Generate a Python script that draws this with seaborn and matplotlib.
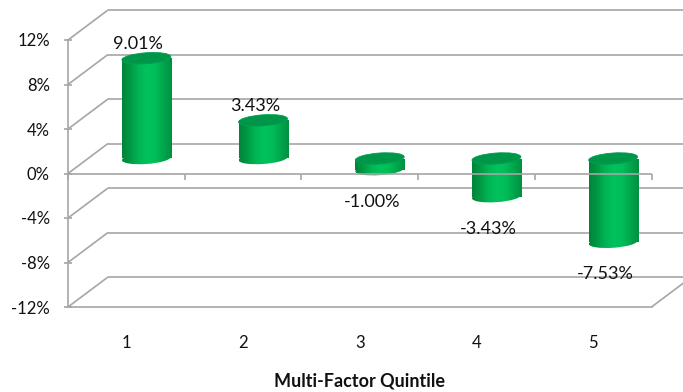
import numpy as np
import pandas as pd
import matplotlib
matplotlib.use("Agg")
import matplotlib.pyplot as plt
import matplotlib.transforms as mtransforms
from matplotlib.patches import Ellipse
from matplotlib.colors import LinearSegmentedColormap
import seaborn as sns

# ---- data -------------------------------------------------------------
quintiles = ["1", "2", "3", "4", "5"]
returns = [9.01, 3.43, -1.00, -3.43, -7.53]
value_labels = ["9.01%", "3.43%", "-1.00%", "-3.43%", "-7.53%"]
y_ticks = [-12, -8, -4, 0, 4, 8, 12]
y_tick_labels = ["-12%", "-8%", "-4%", "0%", "4%", "8%", "12%"]
x_title = "Multi-Factor Quintile"

# ---- styling ----------------------------------------------------------
DPI = 100
W, H = 683, 392
DEPTH = (40, 30)          # back wall offset in pixels (right, up)
GRID = "#a6a6a6"
LW = 1.2
BAR_W = 0.42
CAP_H = 11                # cylinder cap height in pixels
CAP_TILT = 4              # cap tilt in degrees
TEXT = "#111111"

sns.set_theme(style="white")
plt.rcParams["font.family"] = ["Lato", "DejaVu Sans"]

fig = plt.figure(figsize=(W / DPI, H / DPI), dpi=DPI)
ax = fig.add_axes([68 / W, (H - 307) / H, 583.5 / W, 267 / H])

df = pd.DataFrame({"quintile": quintiles, "ret": returns})
sns.barplot(data=df, x="quintile", y="ret", ax=ax, width=BAR_W,
            color="#00a84f", saturation=1)

x_lo, x_hi = -0.5, len(quintiles) - 0.5
y_lo, y_hi = y_ticks[0], y_ticks[-1]


def reset_limits():
    ax.set_xlim(x_lo, x_hi)
    ax.set_ylim(y_lo, y_hi)


reset_limits()

# pixel size of one data unit, used to express the depth offset in data units
p0 = ax.transData.transform((0, 0))
p1 = ax.transData.transform((1, 1))
px_x, px_y = p1[0] - p0[0], p1[1] - p0[1]
dx, dy = DEPTH[0] / px_x, DEPTH[1] / px_y

# the cylinders sit halfway between the front plane and the back wall
mid = mtransforms.offset_copy(ax.transData, fig=fig, x=DEPTH[0] / 2,
                              y=DEPTH[1] / 2, units="dots")

# ---- walls and floor --------------------------------------------------
line_kw = dict(color=GRID, lw=LW, clip_on=False, solid_capstyle="butt")
for v in y_ticks:
    ax.plot([x_lo + dx, x_hi + dx], [v + dy, v + dy], zorder=1, **line_kw)
    ax.plot([x_lo, x_lo + dx], [v, v + dy], zorder=1, **line_kw)
ax.plot([x_hi, x_hi + dx], [y_lo, y_lo + dy], zorder=1, **line_kw)

for side in ["top", "right"]:
    ax.spines[side].set_visible(False)
for side in ["left", "bottom"]:
    ax.spines[side].set_color(GRID)
    ax.spines[side].set_linewidth(LW)

# ---- cylinders --------------------------------------------------------
cyl_cmap = LinearSegmentedColormap.from_list(
    "cyl", ["#00843a", "#009a45", "#00b555", "#00c25d", "#00bd59", "#00a64c", "#009040"])
grad = np.linspace(0, 1, 256)[None, :]
ident = mtransforms.IdentityTransform()

for i, (patch, v) in enumerate(zip(ax.patches, returns)):
    patch.set_transform(mid)
    patch.set_facecolor("none")
    patch.set_edgecolor("none")
    bx, bw = patch.get_x(), patch.get_width()
    y0, y1 = patch.get_y(), patch.get_y() + patch.get_height()
    lo, hi = min(y0, y1), max(y0, y1)

    body = ax.imshow(grad, cmap=cyl_cmap, aspect="auto", interpolation="bilinear",
                     extent=(bx, bx + bw, lo, hi), transform=mid, zorder=3)
    body.set_clip_path(patch)

    wpx = bw * px_x
    cx, cy = mid.transform((bx + bw / 2, lo))
    base = Ellipse((cx, cy), wpx, CAP_H, angle=CAP_TILT, transform=ident)
    base_im = ax.imshow(grad, cmap=cyl_cmap, aspect="auto", interpolation="bilinear",
                        extent=(cx - wpx / 2, cx + wpx / 2, cy - CAP_H, cy + CAP_H),
                        transform=ident, zorder=3)
    base_im.set_clip_path(base)

    tx, ty = mid.transform((bx + bw / 2, hi))
    cap = Ellipse((tx, ty), wpx, CAP_H, angle=CAP_TILT, transform=ident,
                  facecolor="#00964a", edgecolor="#00a050", lw=0.6, zorder=4)
    ax.add_artist(cap)

reset_limits()

# ---- front zero axis (drawn in front of the cylinders) ----------------
bounds = np.arange(len(quintiles) + 1) - 0.5
ax.plot([x_lo, x_hi], [0, 0], zorder=5, **line_kw)
ax.vlines(bounds, 0, -6 / px_y, colors=GRID, lw=LW, zorder=5, clip_on=False)

# ---- value labels -----------------------------------------------------
for i, (v, lbl) in enumerate(zip(returns, value_labels)):
    ax.annotate(lbl, xy=(i, v), xycoords=mid,
                xytext=(-8, 14 if v > 0 else -32), textcoords="offset pixels",
                ha="center", va="center", fontsize=13, color=TEXT, zorder=6)

# ---- ticks ------------------------------------------------------------
ax.set_yticks(y_ticks, y_tick_labels)
ax.tick_params(axis="y", left=True, direction="inout", length=6, width=LW,
               color=GRID, pad=10, labelsize=12, labelcolor=TEXT)
ax.set_xticks(range(len(quintiles)), quintiles)
ax.tick_params(axis="x", bottom=False, length=0, pad=20,
               labelsize=12, labelcolor=TEXT)
ax.set_xlabel("")
ax.set_ylabel("")

fig.text(359 / W, 1 - 381 / H, x_title, ha="center", va="center",
         fontsize=13, fontweight="bold", color=TEXT)

fig.savefig("out.png", dpi=DPI)
